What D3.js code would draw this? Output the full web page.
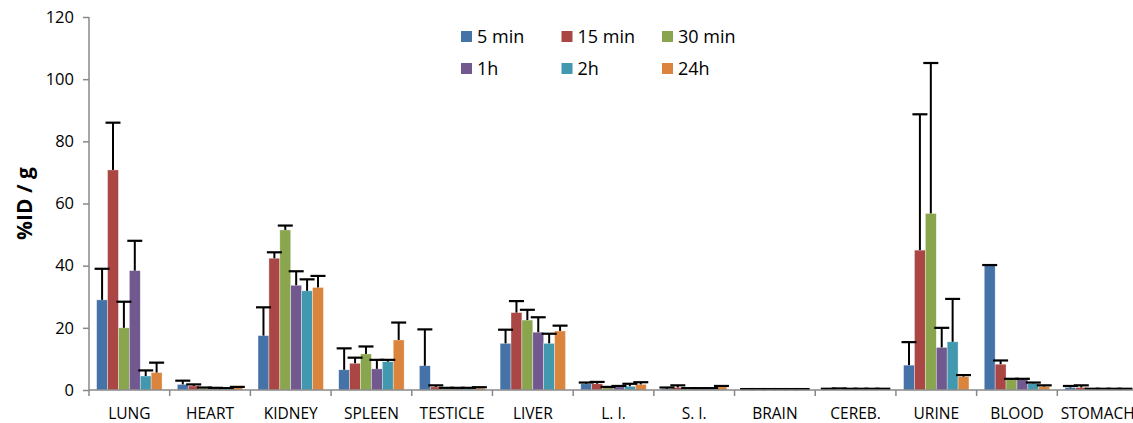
<!DOCTYPE html>
<html>
<head>
<meta charset="utf-8">
<script src="https://cdn.jsdelivr.net/npm/d3@7"></script>
<style>
  body { margin: 0; background: #fff; }
  svg { display: block; font-family: "Open Sans", "Noto Sans", sans-serif; }
</style>
</head>
<body>
<div id="plotSect"></div>
<script>
// data //
let organs = ["LUNG", "HEART", "KIDNEY", "SPLEEN", "TESTICLE", "LIVER", "L. I.", "S. I.", "BRAIN", "CEREB.", "URINE", "BLOOD", "STOMACH"];
let times = ["5 min", "15 min", "30 min", "1h", "2h", "24h"];
let yTicks = [0, 20, 40, 60, 80, 100, 120];

// mean %ID/g per time point, one value per organ
let mean5min  = [29.0, 1.8, 17.5, 6.5, 7.8, 15.0, 2.0, 0.4, 0.2, 0.3, 8.0, 40.0, 0.8];
let mean15min = [70.8, 1.3, 42.4, 8.6, 1.0, 24.9, 2.0, 0.8, 0.2, 0.3, 45.0, 8.3, 0.8];
let mean30min = [20.0, 0.6, 51.5, 11.6, 0.5, 22.5, 0.8, 0.4, 0.2, 0.3, 56.8, 3.3, 0.3];
let mean1h    = [38.4, 0.5, 33.7, 6.8, 0.5, 18.6, 1.0, 0.4, 0.2, 0.3, 13.7, 3.3, 0.3];
let mean2h    = [4.5, 0.4, 31.9, 9.1, 0.5, 15.0, 1.2, 0.4, 0.2, 0.3, 15.5, 2.1, 0.3];
let mean24h   = [5.6, 0.8, 33.0, 16.1, 0.6, 19.0, 1.8, 1.0, 0.2, 0.3, 4.3, 1.1, 0.3];

// top of the error bar (mean + SD)
let err5min  = [39.0, 3.0, 26.6, 13.4, 19.5, 19.4, 2.4, 0.8, 0.3, 0.4, 15.4, 40.2, 1.3];
let err15min = [86.0, 1.8, 44.3, 10.4, 1.5, 28.6, 2.6, 1.5, 0.3, 0.5, 88.7, 9.5, 1.5];
let err30min = [28.4, 0.8, 52.9, 14.0, 0.7, 25.8, 1.0, 0.6, 0.3, 0.4, 105.2, 3.6, 0.4];
let err1h    = [48.0, 0.7, 38.2, 9.7, 0.7, 23.4, 1.3, 0.6, 0.3, 0.4, 20.0, 3.6, 0.4];
let err2h    = [6.3, 0.6, 35.6, 9.7, 0.7, 18.1, 2.0, 0.6, 0.3, 0.4, 29.3, 2.4, 0.4];
let err24h   = [8.8, 1.0, 36.7, 21.7, 0.9, 20.7, 2.5, 1.3, 0.3, 0.4, 4.8, 1.5, 0.4];

let means = [mean5min, mean15min, mean30min, mean1h, mean2h, mean24h];
let errs = [err5min, err15min, err30min, err1h, err2h, err24h];
let colors = ["#4572A7", "#AA4643", "#89A54E", "#71588F", "#4198AF", "#DB843D"];

// chart setup //
let SVGwidth = 1133,
    SVGheight = 423,
    margin = {top: 17, left: 89, bottom: 33},
    width = 1049,
    height = SVGheight - margin.top - margin.bottom;

let svg = d3.select("#plotSect").append("svg")
    .attr("width", SVGwidth)
    .attr("height", SVGheight)
    .style("overflow", "hidden");

let g = svg.append("g")
    .attr("transform", "translate(" + margin.left + "," + margin.top + ")");

let x0 = d3.scaleBand().domain(organs).range([0, width]).padding(0);
let x1 = d3.scaleBand().domain(times).range([0, x0.bandwidth()]).paddingInner(0).paddingOuter(0.7);
let y = d3.scaleLinear().domain([0, 120]).range([height, 0]);

// bars
let rows = [];
organs.forEach(function(o, i) {
    times.forEach(function(t, j) {
        rows.push({organ: o, time: t, idx: j, v: means[j][i], e: errs[j][i]});
    });
});

g.selectAll(".bar")
    .data(rows)
    .enter().append("rect")
    .attr("class", "bar")
    .attr("x", function(d) { return x0(d.organ) + x1(d.time); })
    .attr("y", function(d) { return y(d.v); })
    .attr("width", x1.bandwidth())
    .attr("height", function(d) { return height - y(d.v); })
    .style("fill", function(d) { return colors[d.idx]; })
    .style("stroke", "rgba(255,255,255,0.6)")
    .style("stroke-width", 0.6);

// error bars (upper only)
let eb = g.selectAll(".err")
    .data(rows)
    .enter().append("g")
    .attr("class", "err")
    .attr("transform", function(d) { return "translate(" + (x0(d.organ) + x1(d.time) + x1.bandwidth() / 2) + ",0)"; });

eb.append("line")
    .attr("x1", 0).attr("x2", 0)
    .attr("y1", function(d) { return y(d.v); })
    .attr("y2", function(d) { return y(d.e); })
    .style("stroke", "#000").style("stroke-width", 2);

eb.append("line")
    .attr("x1", -7.5).attr("x2", 7.5)
    .attr("y1", function(d) { return y(d.e); })
    .attr("y2", function(d) { return y(d.e); })
    .style("stroke", "#000").style("stroke-width", 2.2);

// y axis
let yAxis = d3.axisLeft(y).tickValues(yTicks).tickSize(6).tickPadding(9);
let ya = g.append("g").attr("class", "yAxis").call(yAxis);
ya.select(".domain").attr("stroke", "#888").attr("stroke-width", 1.5).attr("d", "M0,0V" + height);
ya.selectAll(".tick line").attr("stroke", "#888").attr("stroke-width", 1.5);
ya.selectAll(".tick text").style("font-size", "16.5px").style("fill", "#000")
    .style("font-family", "'Open Sans', sans-serif");

// x axis
let xa = g.append("g").attr("class", "xAxis")
    .attr("transform", "translate(0," + height + ")");
xa.append("line").attr("x1", 0).attr("x2", width)
    .attr("stroke", "#888").attr("stroke-width", 1.5);
xa.selectAll(".xtick")
    .data(organs)
    .enter().append("line")
    .attr("class", "xtick")
    .attr("x1", function(d) { return x0(d); })
    .attr("x2", function(d) { return x0(d); })
    .attr("y1", 0).attr("y2", 6)
    .attr("stroke", "#888").attr("stroke-width", 1.5);
xa.selectAll(".xlabel")
    .data(organs)
    .enter().append("text")
    .attr("class", "xlabel")
    .attr("x", function(d) { return x0(d) + x0.bandwidth() / 2; })
    .attr("y", 28.5)
    .style("text-anchor", "middle")
    .style("font-size", "15.5px")
    .text(function(d) { return d; });

// axis title
svg.append("text")
    .attr("transform", "translate(32," + (margin.top + height / 2) + ") rotate(-90)")
    .style("text-anchor", "middle")
    .style("font-size", "21px")
    .style("font-weight", "bold")
    .text("%ID / g");

// legend
let legend = svg.selectAll(".legend")
    .data(times)
    .enter().append("g")
    .attr("class", "legend")
    .attr("transform", function(d, i) { return "translate(" + (461 + (i % 3) * 100.5) + "," + (31 + Math.floor(i / 3) * 32) + ")"; });

legend.append("rect")
    .attr("width", 11).attr("height", 11)
    .style("fill", function(d, i) { return colors[i]; });

legend.append("text")
    .attr("x", 16)
    .attr("y", 6)
    .attr("dy", "0.35em")
    .style("font-size", "18px")
    .text(function(d) { return d; });
</script>
</body>
</html>
